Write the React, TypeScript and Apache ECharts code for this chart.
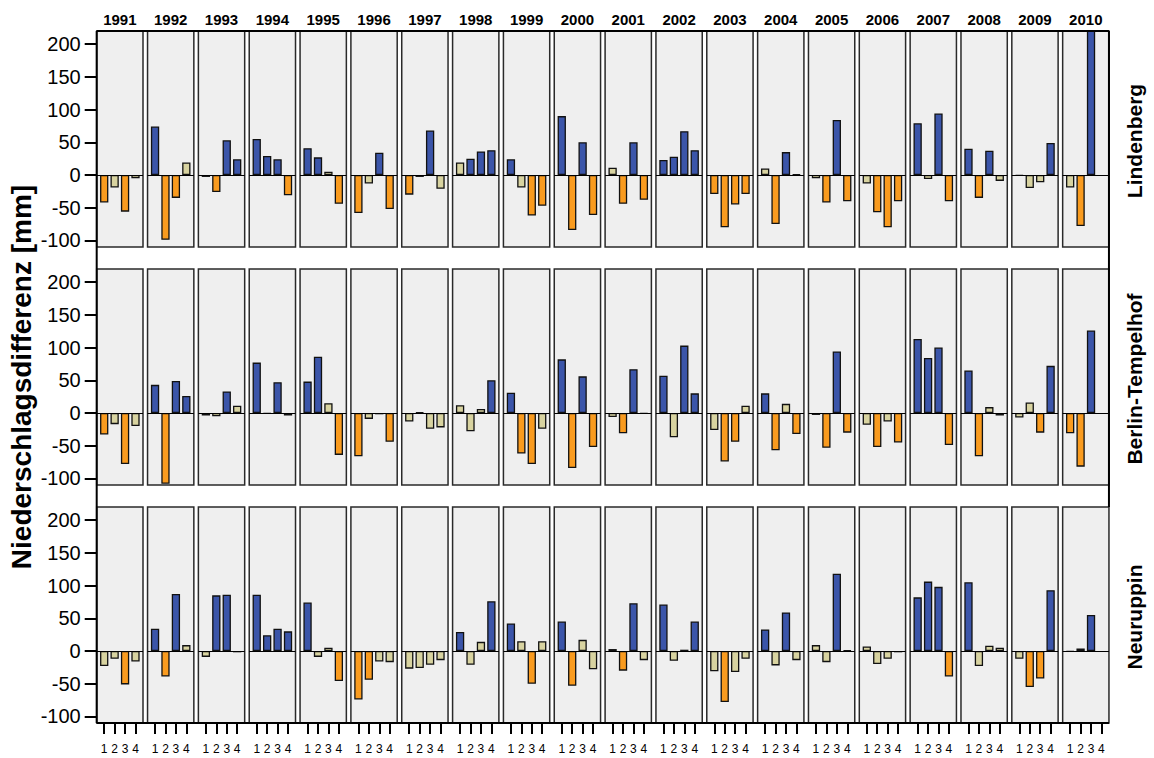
import React, { useEffect, useRef } from "react";
import * as echarts from "echarts";

const years = ["1991","1992","1993","1994","1995","1996","1997","1998","1999","2000","2001","2002","2003","2004","2005","2006","2007","2008","2009","2010"];
const quarterLabels = ["1", "2", "3", "4"];
const stations = ["Lindenberg", "Berlin-Tempelhof", "Neuruppin"];
const yTicks = [-100, -50, 0, 50, 100, 150, 200];
const yTitle = "Niederschlagsdifferenz [mm]";

// quarterly precipitation difference [mm], one row per year (Q1..Q4)
const lindenberg: (number | null)[][] = [
  [-42, -19, -56, -5], [74, -99, -35, 19], [-3, -26, 53, 24], [55, 29, 24, -31], [41, 27, 5, -44],
  [-58, -13, 34, -52], [-30, -3, 68, -21], [19, 25, 36, 38], [24, -19, -62, -47], [90, -84, 50, -61],
  [11, -44, 50, -38], [23, 28, 67, 38], [-29, -80, -45, -29], [10, -75, 35, 1], [-5, -42, 84, -40],
  [-13, -57, -80, -40], [79, -6, 94, -40], [40, -35, 37, -9], [-1, -20, -11, 49], [-19, -78, 260, null],
];
const berlin: (number | null)[][] = [
  [-33, -17, -78, -20], [43, -108, 49, 26], [-4, -5, 33, 11], [77, -1, 47, -4], [48, 86, 15, -64],
  [-66, -9, -2, -44], [-13, 1, -24, -22], [12, -28, 6, 50], [31, -62, -78, -24], [82, -84, 56, -52],
  [-6, -31, 67, -1], [57, -37, 103, 30], [-26, -74, -44, 11], [30, -57, 14, -32], [-3, -53, 94, -30],
  [-18, -52, -13, -45], [113, 84, 100, -49], [65, -66, 9, -4], [-7, 16, -30, 72], [-31, -82, 126, null],
];
const neuruppin: (number | null)[][] = [
  [-23, -12, -51, -16], [34, -39, 87, 9], [-9, 85, 86, -2], [86, 24, 34, 30], [74, -9, 5, -46],
  [-74, -44, -16, -17], [-27, -26, -21, -14], [29, -21, 14, 76], [42, 15, -50, 15], [45, -53, 17, -28],
  [3, -30, 73, -14], [71, -15, 2, 45], [-31, -78, -32, -12], [33, -22, 59, -14], [9, -17, 118, 1],
  [7, -20, -12, -2], [82, 106, 98, -39], [105, -23, 8, 5], [-12, -55, -42, 93], [-1, 4, 55, null],
];

// class of each quarter: b = above normal, n = normal, o = below normal
const lindenbergClass = ["onon","boon","nobb","bbbo","bbno","onbo","onbn","nbbb","bnoo","bobo","nobo","bbbb","oooo","nobn","nobo","nooo","bnbo","bobn","nnnb","nob-"];
const berlinClass = ["onon","bobb","nnbn","bnbn","bbno","onno","nnnn","nnnb","boon","bobo","nobn","bnbb","noon","bono","nobo","nono","bbbo","bonn","nnob","oob-"];
const neuruppinClass = ["nnon","bobn","nbbn","bbbb","bnno","oonn","nnnn","bnnb","bnon","bonn","nobn","bnnb","nonn","bnbn","nnbn","nnnn","bbbo","bnnn","noob","nnb-"];

const stationValues = [lindenberg, berlin, neuruppin];
const stationClasses = [lindenbergClass, berlinClass, neuruppinClass];
const classColors: Record<string, string> = { b: "#3b55a9", n: "#d8d3a0", o: "#f99b1f" };

export default function App() {
  const ref = useRef<HTMLDivElement>(null);
  useEffect(() => {
    document.body.style.margin = "0";
    const chart = echarts.init(ref.current!, null, { renderer: "svg" });
    const X0 = 96.7, PITCH = 50.84, PW = 46.3, PH = 216;
    const TOPS = [31, 269, 507];
    const RIGHT = X0 + 19 * PITCH + PW;
    const BOTTOM = TOPS[2] + PH;
    const grid: any[] = [], xAxis: any[] = [], yAxis: any[] = [], series: any[] = [];
    const tickStyle = { color: "#000", width: 2 };
    stations.forEach((st, r) => {
      years.forEach((yr, c) => {
        const idx = r * years.length + c;
        grid.push({
          left: X0 + c * PITCH, top: TOPS[r], width: PW, height: PH,
          show: true, backgroundColor: "#efefef", borderColor: "#2a2a2a", borderWidth: 1.5,
        });
        xAxis.push({
          type: "value", gridIndex: idx, min: 0.28, max: 4.72, show: r === 2, position: "bottom",
          axisLine: { show: false, onZero: false }, splitLine: { show: false },
          axisTick: { show: true, customValues: [1, 2, 3, 4], length: 11, lineStyle: tickStyle },
          axisLabel: {
            customValues: [1, 2, 3, 4], formatter: (v: number) => quarterLabels[v - 1],
            fontSize: 12, color: "#000", margin: 20, fontFamily: "'Liberation Sans', Arial, sans-serif",
          },
        });
        yAxis.push({
          type: "value", gridIndex: idx, min: -110, max: 220, show: c === 0,
          axisLine: { show: false, onZero: false }, splitLine: { show: false },
          axisTick: { show: true, customValues: yTicks, length: 12, lineStyle: tickStyle },
          axisLabel: {
            customValues: yTicks, fontSize: 20, color: "#000", margin: 16,
            fontFamily: "'Liberation Sans', Arial, sans-serif",
          },
        });
        const vals = stationValues[r][c];
        const cls = stationClasses[r][c];
        const data: any[] = [];
        vals.forEach((v, i) => {
          if (v === null) return;
          data.push({ value: [i + 1, v], itemStyle: { color: classColors[cls[i]] } });
        });
        series.push({
          type: "bar", name: st + " " + yr, xAxisIndex: idx, yAxisIndex: idx,
          barWidth: 8.3, clip: true, data,
          itemStyle: { borderColor: "#111", borderWidth: 1.3 },
          markLine: {
            silent: true, symbol: ["none", "none"], label: { show: false },
            lineStyle: { color: "#000", width: 1, type: "solid" },
            data: [{ yAxis: 0 }],
          },
        });
      });
    });

    const graphic: any[] = [];
    years.forEach((yr, c) => {
      graphic.push({
        type: "text", x: X0 + c * PITCH + PW / 2, y: 19,
        style: { text: yr, font: "bold 15px 'Liberation Sans', Arial, sans-serif", fill: "#000", textAlign: "center", textVerticalAlign: "middle" },
      });
    });
    stations.forEach((st, r) => {
      graphic.push({
        type: "text", x: 1134, y: TOPS[r] + PH / 2 + 2, rotation: Math.PI / 2,
        style: { text: st, font: "bold 21px 'Liberation Sans', Arial, sans-serif", fill: "#000", textAlign: "center", textVerticalAlign: "middle" },
      });
    });
    graphic.push({
      type: "text", x: 21, y: (TOPS[0] + BOTTOM) / 2, rotation: Math.PI / 2,
      style: { text: yTitle, font: "bold 28px 'Liberation Sans', Arial, sans-serif", fill: "#000", textAlign: "center", textVerticalAlign: "middle" },
    });
    const frame = { stroke: "#000", lineWidth: 2 };
    graphic.push({ type: "line", shape: { x1: X0, y1: TOPS[0], x2: X0, y2: BOTTOM }, style: frame, z: 100 });
    graphic.push({ type: "line", shape: { x1: X0, y1: TOPS[0], x2: RIGHT, y2: TOPS[0] }, style: frame, z: 100 });
    graphic.push({ type: "line", shape: { x1: RIGHT, y1: TOPS[0], x2: RIGHT, y2: TOPS[2] }, style: frame, z: 100 });
    graphic.push({ type: "line", shape: { x1: X0, y1: BOTTOM, x2: RIGHT, y2: BOTTOM }, style: frame, z: 100 });

    chart.setOption({ animation: false, backgroundColor: "#fff", grid, xAxis, yAxis, series, graphic });
    return () => chart.dispose();
  }, []);
  return <div ref={ref} style={{ width: 1154, height: 758 }} />;
}
